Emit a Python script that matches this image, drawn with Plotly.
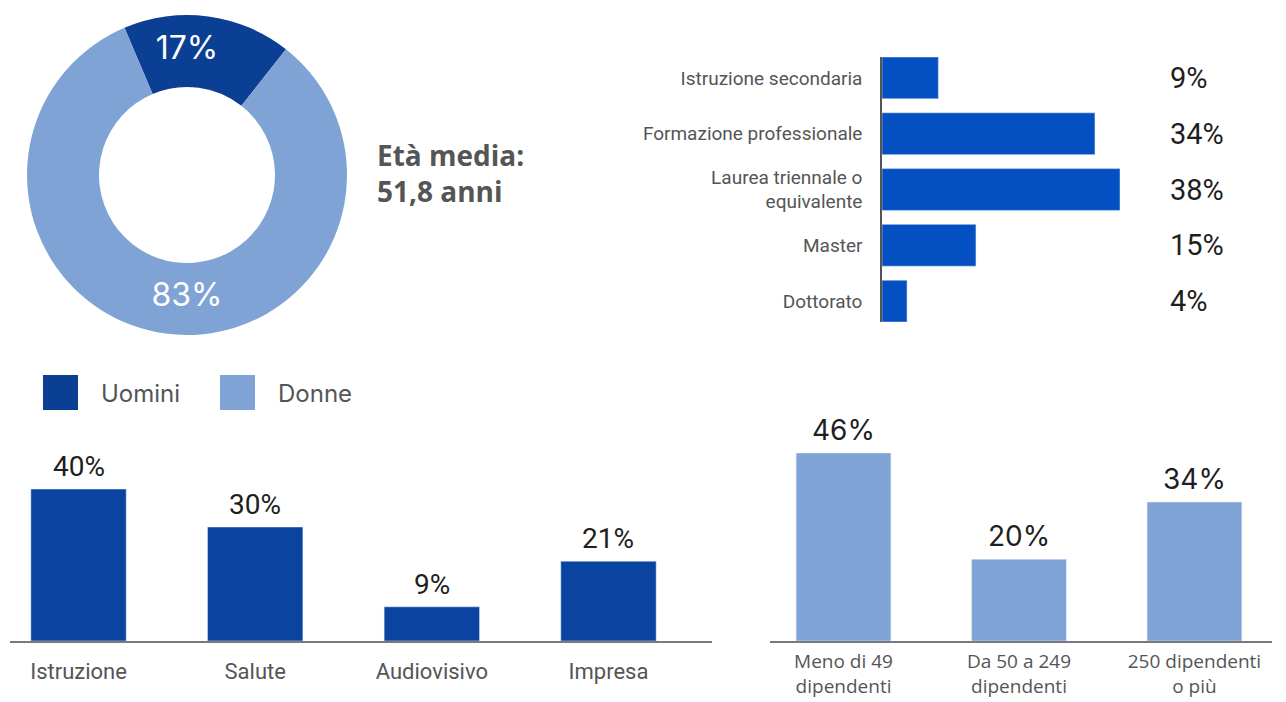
import plotly.graph_objects as go

W, H = 1286, 702

# Gender split
gender_labels = ["Uomini", "Donne"]
gender_values = [17, 83]
age_text = "Età media:<br>51,8 anni"

# Education level
edu_labels = ["Istruzione secondaria", "Formazione professionale",
              "Laurea triennale o<br>equivalente", "Master", "Dottorato"]
edu_values = [9, 34, 38, 15, 4]

# Sector
sector_labels = ["Istruzione", "Salute", "Audiovisivo", "Impresa"]
sector_values = [40, 30, 9, 21]

# Company size
size_labels = ["Meno di 49<br>dipendenti", "Da 50 a 249<br>dipendenti", "250 dipendenti<br>o più"]
size_values = [46, 20, 34]

DARK = "#0b3f94"
BRIGHT = "#0450c2"
NAVY_BAR = "#0a44a0"
LIGHT = "#7fa3d4"
GREY = "#555555"
TEXT = "#1e1e1e"


def px(x):
    return x / W


def py(y):
    return 1 - y / H


fig = go.Figure()

# Donut
fig.add_trace(go.Pie(
    labels=gender_labels, values=gender_values, hole=0.55, sort=False,
    direction="clockwise", rotation=-23,
    marker=dict(colors=[DARK, LIGHT], line=dict(width=0)),
    texttemplate="%{value}%", textposition="inside",
    insidetextorientation="horizontal",
    textfont=dict(family="Inter", size=32, color="white"),
    domain=dict(x=[px(27), px(347)], y=[py(335), py(15)]),
    showlegend=False, hoverinfo="label+percent", automargin=False,
))

# Education bars (horizontal)
fig.add_trace(go.Bar(
    x=edu_values, y=edu_labels, orientation="h", marker_color=BRIGHT,
    width=0.75, xaxis="x", yaxis="y", showlegend=False,
))

# Sector bars
fig.add_trace(go.Bar(
    x=sector_labels, y=sector_values, marker_color=NAVY_BAR,
    width=0.54, xaxis="x2", yaxis="y2", showlegend=False,
))

# Company-size bars
fig.add_trace(go.Bar(
    x=size_labels, y=size_values, marker_color=LIGHT,
    width=0.54, xaxis="x3", yaxis="y3", showlegend=False,
))

annotations = []

# Average age
annotations.append(dict(
    x=px(375), y=py(173), xref="paper", yref="paper", xanchor="left", yanchor="middle",
    text=f"<b>{age_text}</b>", showarrow=False, align="left",
    font=dict(family="Open Sans", size=28, color=GREY),
))

# Education value labels in a column at the right
for lab, v in zip(edu_labels, edu_values):
    annotations.append(dict(
        x=px(1168), y=lab, xref="paper", yref="y", xanchor="left", yanchor="middle",
        text=f"{v}%", showarrow=False,
        font=dict(family="Roboto", size=29, color=TEXT),
    ))

# Values above sector bars
for lab, v in zip(sector_labels, sector_values):
    annotations.append(dict(
        x=lab, y=v, xref="x2", yref="y2", xanchor="center", yanchor="bottom",
        yshift=4, text=f"{v}%", showarrow=False,
        font=dict(family="Roboto", size=28, color=TEXT),
    ))

# Values above company-size bars
for lab, v in zip(size_labels, size_values):
    annotations.append(dict(
        x=lab, y=v, xref="x3", yref="y3", xanchor="center", yanchor="bottom",
        yshift=4, text=f"{v}%", showarrow=False,
        font=dict(family="Inter", size=28, color=TEXT),
    ))

# Legend for the donut
shapes = []
legend_items = [(43, gender_labels[0], DARK), (220, gender_labels[1], LIGHT)]
for x0, name, col in legend_items:
    shapes.append(dict(
        type="rect", xref="paper", yref="paper",
        x0=px(x0), x1=px(x0 + 35), y0=py(410), y1=py(375),
        fillcolor=col, line=dict(width=0),
    ))
    annotations.append(dict(
        x=px(x0 + 56), y=py(393), xref="paper", yref="paper",
        xanchor="left", yanchor="middle", text=name, showarrow=False,
        font=dict(family="Inter", size=24, color=GREY),
    ))

fig.update_layout(
    width=W, height=H, margin=dict(l=0, r=0, t=0, b=0, autoexpand=False),
    paper_bgcolor="white", plot_bgcolor="white",
    bargap=0.25,
    xaxis=dict(domain=[px(882), px(1120)], range=[0, 38], visible=False,
               fixedrange=True, automargin=False),
    yaxis=dict(domain=[py(322), py(57)], range=[4.375, -0.375], showline=True,
               linecolor="#555555", linewidth=1.5, ticks="", showgrid=False,
               zeroline=False, ticklabelstandoff=14, automargin=False,
               tickfont=dict(family="Roboto", size=19, color=GREY)),
    xaxis2=dict(domain=[px(10), px(712)], range=[-0.388, 3.586], anchor="y2",
                showline=True, linecolor="#7a7a7a", linewidth=2, ticks="",
                showgrid=False, zeroline=False, ticklabelstandoff=10, automargin=False,
                tickfont=dict(family="Roboto", size=22, color=GREY)),
    yaxis2=dict(domain=[py(641), py(489)], range=[0, 40], visible=False,
                anchor="x2", automargin=False),
    xaxis3=dict(domain=[px(770), px(1272)], range=[-0.419, 2.442], anchor="y3",
                showline=True, linecolor="#7a7a7a", linewidth=2, ticks="",
                showgrid=False, zeroline=False, ticklabelstandoff=2, automargin=False,
                tickfont=dict(family="Open Sans", size=19, color=GREY)),
    yaxis3=dict(domain=[py(641), py(453)], range=[0, 46], visible=False,
                anchor="x3", automargin=False),
    annotations=annotations, shapes=shapes,
)

fig.write_html("out.html")
